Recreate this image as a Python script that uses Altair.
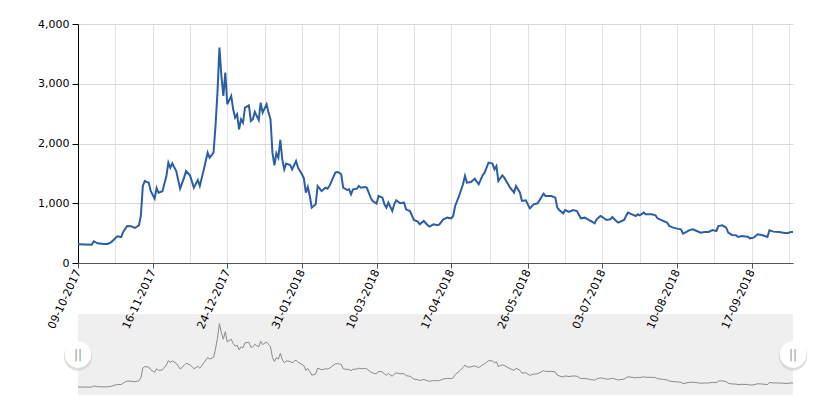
import altair as alt
import pandas as pd

START = "2017-10-09"
END = "2018-10-08"

day_offsets = [0, 4, 7, 8, 10, 13, 15, 17, 20, 22, 23, 25, 27, 29, 31, 32, 33, 34, 36, 37, 39, 40, 41, 43, 45, 46, 47, 48, 50, 52, 54, 55, 57, 59, 61, 62, 64, 66, 67, 69, 70, 71, 72, 73, 74, 75, 76, 78, 79, 80, 81, 82, 83, 84, 85, 87, 88, 89, 90, 91, 92, 93, 94, 96, 97, 98, 99, 100, 101, 102, 103, 104, 105, 106, 108, 109, 111, 112, 114, 115, 116, 117, 118, 119, 121, 122, 124, 126, 127, 128, 129, 131, 132, 133, 134, 135, 137, 138, 139, 140, 142, 143, 144, 146, 147, 149, 150, 152, 153, 155, 156, 157, 158, 160, 161, 162, 164, 166, 167, 169, 171, 173, 174, 176, 178, 179, 181, 183, 184, 186, 188, 190, 191, 192, 194, 196, 197, 198, 200, 202, 204, 206, 207, 209, 211, 212, 213, 214, 216, 217, 220, 222, 223, 225, 226, 228, 230, 232, 234, 237, 238, 241, 243, 244, 245, 247, 248, 250, 252, 254, 256, 258, 260, 261, 263, 264, 266, 267, 269, 271, 272, 274, 275, 278, 279, 280, 282, 284, 285, 286, 288, 289, 292, 294, 295, 298, 300, 301, 303, 305, 307, 308, 310, 311, 313, 315, 317, 319, 321, 323, 325, 326, 328, 330, 331, 333, 335, 336, 338, 341, 342, 344, 346, 348, 351, 352, 354, 357, 359, 361, 363, 364]

values = [312, 308, 305, 363, 330, 318, 318, 350, 446, 435, 519, 620, 614, 586, 630, 787, 1289, 1373, 1345, 1205, 1077, 1256, 1177, 1200, 1456, 1680, 1596, 1668, 1540, 1244, 1428, 1540, 1467, 1261, 1389, 1289, 1557, 1847, 1763, 1847, 2293, 2851, 3605, 3130, 2796, 3186, 2656, 2796, 2572, 2433, 2489, 2238, 2405, 2349, 2600, 2639, 2377, 2405, 2528, 2461, 2394, 2684, 2517, 2656, 2517, 2405, 1847, 1635, 1836, 1763, 2059, 1735, 1568, 1663, 1641, 1568, 1707, 1596, 1484, 1417, 1177, 1272, 1122, 926, 982, 1289, 1205, 1261, 1244, 1289, 1361, 1512, 1523, 1512, 1484, 1261, 1222, 1233, 1149, 1233, 1244, 1289, 1261, 1272, 1261, 1094, 1038, 993, 1122, 1094, 982, 926, 1010, 870, 982, 1049, 999, 1010, 898, 870, 720, 692, 647, 703, 631, 608, 647, 631, 647, 731, 759, 748, 787, 954, 1122, 1317, 1456, 1345, 1356, 1412, 1317, 1467, 1512, 1680, 1663, 1568, 1624, 1373, 1467, 1428, 1261, 1177, 1289, 1177, 1038, 1049, 915, 982, 999, 1161, 1122, 1122, 1094, 926, 887, 831, 887, 854, 887, 870, 748, 759, 720, 703, 664, 731, 787, 770, 720, 731, 770, 703, 675, 720, 787, 843, 815, 787, 815, 798, 843, 815, 815, 798, 748, 703, 675, 619, 592, 575, 564, 491, 525, 547, 564, 536, 508, 519, 519, 552, 536, 619, 631, 592, 508, 469, 463, 435, 452, 441, 413, 424, 480, 469, 435, 547, 525, 519, 508, 497, 519, 519]

label_dates = ["2017-10-09", "2017-11-16", "2017-12-24", "2018-01-31", "2018-03-10",
               "2018-04-17", "2018-05-26", "2018-07-03", "2018-08-10", "2018-09-17"]
y_ticks = [0, 1000, 2000, 3000, 4000]
handle_dates = [START, END]

base = pd.Timestamp(START)
df = pd.DataFrame({
    "date": [base + pd.Timedelta(days=d) for d in day_offsets],
    "value": values,
})
handle_df = pd.DataFrame({"date": [pd.Timestamp(d) for d in handle_dates]})

def ms(ts):
    return int(pd.Timestamp(ts).value // 10**6)

dom = [ms(START), ms(END)]
label_vals = [ms(d) for d in label_dates]
grid_vals = list(label_vals)
for a, b in zip(label_vals[:-1], label_vals[1:]):
    grid_vals.append((a + b) // 2)
grid_vals.append(label_vals[-1] + (label_vals[-1] - label_vals[-2]) // 2)

W = 715
H = 239
NAV_TOP = 290
NAV_BOTTOM = 371
FONT = "DejaVu Sans"

xscale = alt.Scale(type="utc", domain=dom, nice=False)
yscale = alt.Scale(domain=[0, 4000], nice=False)

yaxis = alt.Axis(values=y_ticks, labelExpr="format(datum.value, ',')", title=None,
                 grid=True, gridColor="#d6d6d6", domainColor="#000", tickColor="#000",
                 tickSize=6, labelPadding=3, labelColor="#000", orient="left",
                 labelFont=FONT, labelFontSize=11)

grid_layer = alt.Chart(df).mark_line(opacity=0).encode(
    x=alt.X("date:T", scale=xscale,
            axis=alt.Axis(values=grid_vals, grid=True, gridColor="#e2e2e2",
                          labels=False, ticks=False, domain=False, zindex=0,
                          orient="bottom", title=None)),
    y=alt.Y("value:Q", scale=yscale, axis=yaxis),
)

line_layer = alt.Chart(df).mark_line(color="#2c5ea6", strokeWidth=2).encode(
    x=alt.X("date:T", scale=xscale,
            axis=alt.Axis(values=label_vals,
                          labelExpr="utcFormat(datum.value, '%d-%m-%Y')",
                          grid=False, labelAngle=-65, labelFont=FONT,
                          labelFontSize=11, labelColor="#000",
                          domainColor="#555", tickColor="#555", tickSize=5,
                          labelPadding=2, orient="bottom", title=None, zindex=1,
                          labelOverlap=False, labelFlush=False)),
    y=alt.Y("value:Q", scale=yscale, axis=yaxis),
)

main = alt.layer(grid_layer, line_layer).resolve_axis(x="independent")

# navigator background (drawn below the plot, under the axis labels)
nav_bg = alt.Chart(df).mark_rect(color="#efefef").encode(
    x=alt.value(0), x2=alt.value(W), y=alt.value(NAV_TOP), y2=alt.value(NAV_BOTTOM))

nav_line = alt.Chart(df).mark_line(color="#8a8a8a", strokeWidth=1).encode(
    x=alt.X("date:T", scale=xscale, axis=None),
    y=alt.Y("value:Q", scale=alt.Scale(domain=[0, 4000], nice=False,
                                       range=[NAV_BOTTOM - 2, NAV_TOP + 2]),
            axis=None),
)

HY = (NAV_TOP + NAV_BOTTOM) / 2
shadow = alt.Chart(handle_df).mark_circle(color="#c8c8c8", opacity=0.6, size=800,
                                           dx=1).encode(
    x=alt.X("date:T", scale=xscale, axis=None),
    y=alt.value(HY + 2))
handle = alt.Chart(handle_df).mark_circle(color="#ffffff", opacity=1, size=700).encode(
    x=alt.X("date:T", scale=xscale, axis=None),
    y=alt.value(HY))
handle_txt = alt.Chart(handle_df).mark_text(text="||", color="#999999", fontSize=12,
                                             font=FONT).encode(
    x=alt.X("date:T", scale=xscale, axis=None),
    y=alt.value(HY))

chart = alt.layer(
    nav_bg, nav_line, main, shadow, handle, handle_txt
).resolve_scale(y="independent").resolve_axis(
    x="independent", y="independent"
).properties(
    width=W, height=H,
    padding={"left": 29, "top": 10, "right": 5, "bottom": 5}
).configure_view(stroke=None)

chart.save("out.html", embed_options={"renderer": "svg", "actions": False})
